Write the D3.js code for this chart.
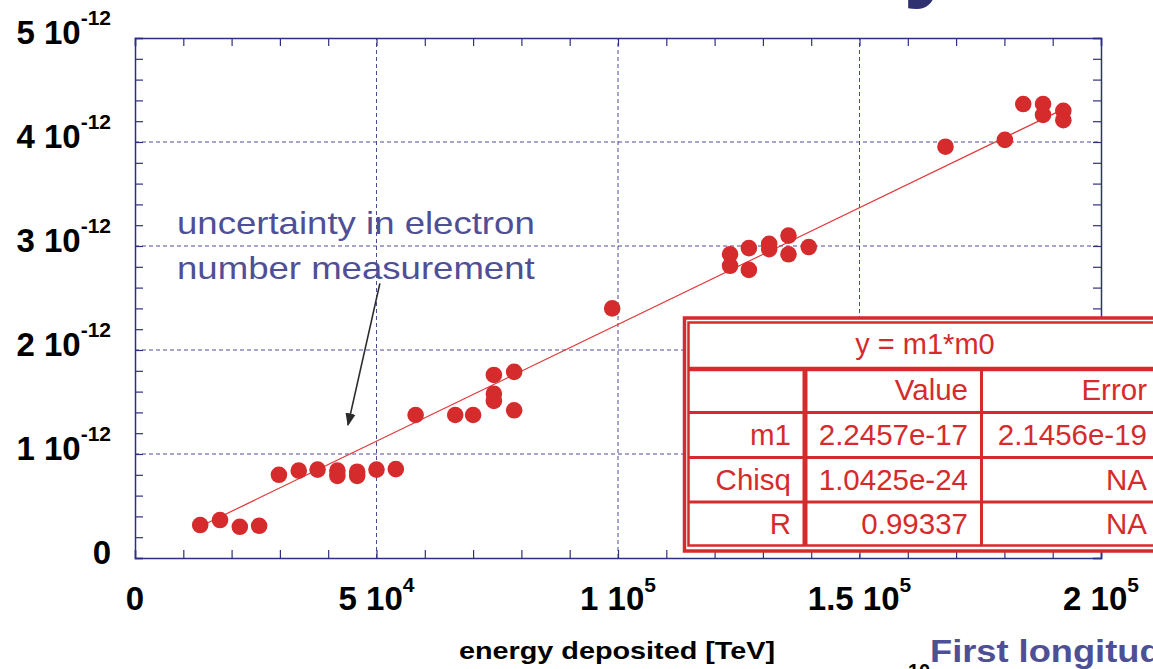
<!DOCTYPE html>
<html>
<head>
<meta charset="utf-8">
<script src="https://cdn.jsdelivr.net/npm/d3@7"></script>
<style>
  body { margin: 0; background: #fff; }
  svg { display: block; font-family: "Liberation Sans", Arial, sans-serif; }
</style>
</head>
<body>
<div class="container"></div>
<script>
// measured points: energy deposited [TeV] vs electron number signal (units of 1e-12)
var energy = [13500, 17600, 21700, 25700, 29800, 33900, 37800, 41900, 41900, 46000, 46000, 50000, 54000,
  58100, 66300, 70000, 74300, 74300, 74300, 78500, 78500, 98800,
  123200, 123200, 127100, 127100, 131300, 131300, 135300, 135300, 139500,
  167800, 180100, 183900, 188000, 188000, 192200, 192200];
var signal = [0.317, 0.365, 0.30, 0.31, 0.80, 0.84, 0.85, 0.84, 0.79, 0.83, 0.79, 0.85, 0.855,
  1.375, 1.375, 1.375, 1.76, 1.58, 1.51, 1.79, 1.42, 2.40,
  2.92, 2.81, 2.98, 2.77, 3.02, 2.97, 3.10, 2.92, 2.99,
  3.955, 4.02, 4.365, 4.365, 4.26, 4.30, 4.21];

// fit y = m1*m0
var slope = 2.2457e-17;
var fitRange = [13500, 192200];

var xTicks = [0, 50000, 100000, 150000, 200000];
var xTickMant = ['0', '5 10', '1 10', '1.5 10', '2 10'];
var xTickExp = ['', '4', '5', '5', '5'];
var yTicks = [0, 1, 2, 3, 4, 5];
var yTickMant = ['0', '1 10', '2 10', '3 10', '4 10', '5 10'];
var yTickExp = ['', '-12', '-12', '-12', '-12', '-12'];

var tableHead = 'y = m1*m0';
var tableCols = ['', 'Value', 'Error'];
var tableRows = [
  ['m1', '2.2457e-17', '2.1456e-19'],
  ['Chisq', '1.0425e-24', 'NA'],
  ['R', '0.99337', 'NA']
];

var w = 1153, h = 669;
var navy = '#2f2f82';
var red = '#d52b2d';
var slate = '#4f4f96';

var svg = d3.select('.container')
  .append('svg')
  .attr('width', w)
  .attr('height', h);

var xScale = d3.scaleLinear().domain([0, 200000]).range([135, 1101]);
var yScale = d3.scaleLinear().domain([0, 5]).range([558, 38]);

/* slide title fragment at the top */
svg.append('text')
  .attr('x', 903).attr('y', -12)
  .attr('font-size', 100).attr('font-weight', 'bold')
  .attr('fill', '#2e3070')
  .text('y');

/* grid lines */
var grid = svg.append('g');
grid.selectAll('.vg')
  .data(xTicks.slice(1, -1))
  .enter().append('line')
  .attr('x1', function(d) { return xScale(d); })
  .attr('x2', function(d) { return xScale(d); })
  .attr('y1', yScale(0)).attr('y2', yScale(5));
grid.selectAll('.hg')
  .data(yTicks.slice(1, -1))
  .enter().append('line')
  .attr('y1', function(d) { return yScale(d); })
  .attr('y2', function(d) { return yScale(d); })
  .attr('x1', xScale(0)).attr('x2', xScale(200000));
grid.selectAll('line')
  .attr('stroke', '#4b4b9c')
  .attr('stroke-width', 1)
  .attr('stroke-dasharray', '4,3');

/* frame with inward minor ticks */
var xMinor = d3.range(0, 200001, 10000);
var yMinor = d3.range(0, 5.001, 0.2);

var axes = [
  svg.append('g').attr('transform', 'translate(0,' + yScale(0) + ')')
    .call(d3.axisBottom(xScale).tickValues(xMinor).tickSize(-8).tickFormat('')),
  svg.append('g').attr('transform', 'translate(0,' + yScale(5) + ')')
    .call(d3.axisTop(xScale).tickValues(xMinor).tickSize(-8).tickFormat('')),
  svg.append('g').attr('transform', 'translate(' + xScale(0) + ',0)')
    .call(d3.axisLeft(yScale).tickValues(yMinor).tickSize(-8).tickFormat('')),
  svg.append('g').attr('transform', 'translate(' + xScale(200000) + ',0)')
    .call(d3.axisRight(yScale).tickValues(yMinor).tickSize(-8).tickFormat(''))
];
axes.forEach(function(a) {
  a.selectAll('path').attr('stroke', navy).attr('stroke-width', 1.5);
  a.selectAll('line').attr('stroke', navy).attr('stroke-width', 1.2);
});

/* tick labels */
svg.append('g').selectAll('text')
  .data(yTicks)
  .enter().append('text')
  .attr('x', 111)
  .attr('y', function(d) { return yScale(d) + 6; })
  .attr('text-anchor', 'end')
  .attr('font-size', 33).attr('font-weight', 'bold')
  .each(function(d, i) {
    var t = d3.select(this);
    t.append('tspan').text(yTickMant[i]);
    if (yTickExp[i]) t.append('tspan').attr('dy', -19).attr('font-size', 21).text(yTickExp[i]);
  });

svg.append('g').selectAll('text')
  .data(xTicks)
  .enter().append('text')
  .attr('x', function(d) { return xScale(d); })
  .attr('y', 610)
  .attr('text-anchor', 'middle')
  .attr('font-size', 33).attr('font-weight', 'bold')
  .each(function(d, i) {
    var t = d3.select(this);
    t.append('tspan').text(xTickMant[i]);
    if (xTickExp[i]) t.append('tspan').attr('dy', -18).attr('font-size', 21).text(xTickExp[i]);
  });

svg.append('text')
  .attr('transform', 'translate(617,659) scale(1.2,1)')
  .attr('text-anchor', 'middle')
  .attr('font-size', 24).attr('font-weight', 'bold')
  .text('energy deposited [TeV]');

/* fit line and points */
svg.append('line')
  .attr('x1', xScale(fitRange[0])).attr('y1', yScale(slope * fitRange[0] * 1e12))
  .attr('x2', xScale(fitRange[1])).attr('y2', yScale(slope * fitRange[1] * 1e12))
  .attr('stroke', '#e0393b').attr('stroke-width', 1.2);

svg.append('g').selectAll('circle')
  .data(energy)
  .enter().append('circle')
  .attr('cx', function(d) { return xScale(d); })
  .attr('cy', function(d, i) { return yScale(signal[i]); })
  .attr('r', 8.3)
  .attr('fill', red);

/* annotation */
svg.append('defs').append('marker')
  .attr('id', 'arr')
  .attr('viewBox', '0 0 10 10')
  .attr('refX', 9).attr('refY', 5)
  .attr('markerWidth', 8).attr('markerHeight', 8)
  .attr('orient', 'auto')
  .append('path').attr('d', 'M0,1 L10,5 L0,9 Z').attr('fill', '#2b2b2b');

svg.append('line')
  .attr('x1', xScale(50700)).attr('y1', yScale(2.64))
  .attr('x2', xScale(44100)).attr('y2', yScale(1.28))
  .attr('stroke', '#2b2b2b').attr('stroke-width', 1.6)
  .attr('marker-end', 'url(#arr)');

var note = svg.append('text')
  .attr('transform', 'translate(177,0) scale(1.18,1)')
  .attr('font-size', 31)
  .attr('fill', slate);
note.append('tspan').attr('x', 0).attr('y', 234).text('uncertainty in electron');
note.append('tspan').attr('x', 0).attr('y', 279).text('number measurement');

/* fit result table */
var tb = svg.append('g');
tb.append('rect')
  .attr('x', 684.5).attr('y', 318).attr('width', 520).attr('height', 233)
  .attr('fill', '#fff').attr('stroke', red).attr('stroke-width', 3.5);
tb.append('rect')
  .attr('x', 688.5).attr('y', 322.5).attr('width', 520).attr('height', 223)
  .attr('fill', 'none').attr('stroke', red).attr('stroke-width', 2.5);

var rowLines = [369, 412.5, 457.5, 502];
tb.selectAll('.rl')
  .data(rowLines)
  .enter().append('line')
  .attr('x1', 688).attr('x2', 1200)
  .attr('y1', function(d) { return d; }).attr('y2', function(d) { return d; })
  .attr('stroke', red)
  .attr('stroke-width', function(d, i) { return i == 0 ? 4.5 : 3; });
tb.append('line').attr('x1', 805).attr('x2', 805).attr('y1', 369).attr('y2', 545)
  .attr('stroke', red).attr('stroke-width', 5);
tb.append('line').attr('x1', 981.5).attr('x2', 981.5).attr('y1', 369).attr('y2', 545)
  .attr('stroke', red).attr('stroke-width', 3);

tb.append('text')
  .attr('x', 925).attr('y', 354)
  .attr('text-anchor', 'middle')
  .attr('font-size', 29).attr('fill', red)
  .text(tableHead);

var colRight = [791, 968, 1147];
var rowBase = [400, 445, 490, 534];
var cells = [tableCols].concat(tableRows);
cells.forEach(function(row, r) {
  row.forEach(function(c, k) {
    tb.append('text')
      .attr('x', colRight[k]).attr('y', rowBase[r])
      .attr('text-anchor', 'end')
      .attr('font-size', 29.5).attr('fill', red)
      .text(c);
  });
});

/* slide text fragments at bottom */
svg.append('text')
  .attr('x', 908).attr('y', 678)
  .attr('font-size', 20).attr('font-weight', 'bold')
  .text('10');
svg.append('text')
  .attr('transform', 'translate(930,662) scale(1.17,1)')
  .attr('font-size', 31).attr('font-weight', 'bold')
  .attr('fill', slate)
  .text('First longitudinal');
</script>
</body>
</html>
